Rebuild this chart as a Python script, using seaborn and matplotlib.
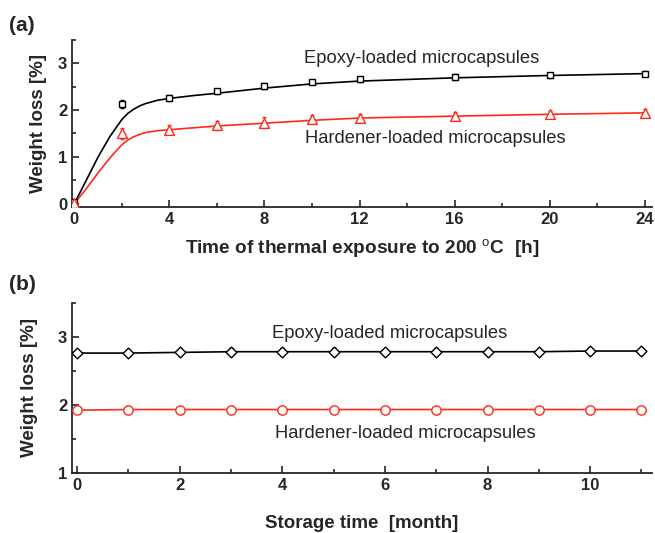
import numpy as np
import pandas as pd
import matplotlib
matplotlib.use("Agg")
import matplotlib.pyplot as plt
import seaborn as sns

# (a) thermal exposure data
timeH = [0, 2, 4, 6, 8, 10, 12, 16, 20, 24]
epoxyA = [0.03, 2.13, 2.26, 2.40, 2.52, 2.60, 2.66, 2.71, 2.74, 2.78]
epoxyAErr = [0.03, 0.08, 0.06, 0.06, 0.06, 0.05, 0.05, 0.06, 0.06, 0.05]
hardA = [0.02, 1.50, 1.58, 1.67, 1.73, 1.80, 1.84, 1.88, 1.91, 1.94]
hardAErr = [0.03, 0.12, 0.10, 0.10, 0.12, 0.10, 0.08, 0.08, 0.08, 0.08]

# fitted curves
fitT = [0, 0.5, 1, 1.5, 2, 2.25, 2.5, 2.75, 3, 3.5, 4, 5, 6, 8, 10, 12, 16, 20, 24]
epoxyFit = [0.0, 0.50, 1.00, 1.44, 1.80, 1.93, 2.02, 2.09, 2.14, 2.21, 2.25, 2.31, 2.36, 2.47, 2.56, 2.62, 2.69, 2.74, 2.78]
hardFit = [0.0, 0.32, 0.66, 0.98, 1.26, 1.36, 1.43, 1.48, 1.52, 1.56, 1.58, 1.62, 1.66, 1.72, 1.78, 1.83, 1.87, 1.91, 1.94]

# (b) storage data
month = [0, 1, 2, 3, 4, 5, 6, 7, 8, 9, 10, 11]
epoxyB = [2.76, 2.76, 2.77, 2.78, 2.78, 2.78, 2.78, 2.78, 2.78, 2.78, 2.79, 2.79]
epoxyBErr = [0.05, 0.04, 0.05, 0.05, 0.05, 0.05, 0.04, 0.05, 0.04, 0.04, 0.04, 0.04]
hardB = [1.92, 1.93, 1.93, 1.93, 1.93, 1.93, 1.93, 1.93, 1.93, 1.93, 1.93, 1.93]
hardBErr = [0.03, 0.02, 0.02, 0.02, 0.03, 0.03, 0.02, 0.03, 0.03, 0.02, 0.02, 0.02]

sns.set_style("ticks")
plt.rcParams['font.family'] = ['Liberation Sans', 'DejaVu Sans']
plt.rcParams['mathtext.fontset'] = 'custom'
plt.rcParams['mathtext.rm'] = 'Liberation Sans'
plt.rcParams['mathtext.bf'] = 'Liberation Sans:bold'

fig = plt.figure(figsize=(6.55, 5.33), dpi=100)
axA = fig.add_axes([0.110, 0.612, 0.885, 0.313])
axB = fig.add_axes([0.110, 0.113, 0.885, 0.319])

red = '#ff2a1a'


def styleAxis(ax):
    sns.despine(ax=ax)
    ax.tick_params(which='both', direction='in', width=1.2, labelsize=12)
    ax.tick_params(which='major', length=5)
    ax.tick_params(which='minor', length=3)
    for s in ['left', 'bottom']:
        ax.spines[s].set_linewidth(1.3)
    for lbl in ax.get_xticklabels() + ax.get_yticklabels():
        lbl.set_fontweight('bold')


def drawPoints(ax, x, y, err, color, marker, size):
    ax.errorbar(x, y, yerr=err, fmt='none', ecolor=color, elinewidth=1, capsize=1.5, zorder=3)
    sns.scatterplot(x=x, y=y, ax=ax, marker=marker, s=size, facecolors='white',
                    edgecolor=color, linewidth=1, zorder=4)


# panel (a)
sns.lineplot(x=fitT, y=epoxyFit, ax=axA, color='black', linewidth=1.2)
sns.lineplot(x=fitT, y=hardFit, ax=axA, color=red, linewidth=1.2)
drawPoints(axA, timeH, epoxyA, epoxyAErr, 'black', 's', 25)
drawPoints(axA, timeH, hardA, hardAErr, red, '^', 50)
axA.set_xlim(-0.1, 24.3)
axA.set_ylim(-0.07, 3.5)
axA.set_xticks([0, 4, 8, 12, 16, 20, 24])
axA.set_xticks(np.arange(0, 25, 2), minor=True)
axA.set_yticks([0, 1, 2, 3])
axA.set_yticks([0.5, 1.5, 2.5, 3.5], minor=True)
axA.set_xlabel("Time of thermal exposure to 200 $^{\\mathrm{o}}$C  [h]", fontsize=13.7, fontweight='bold', labelpad=8)
axA.set_ylabel("Weight loss [%]", fontsize=13.5, fontweight='bold', labelpad=8)
styleAxis(axA)
axA.text(14.6, 3.1, "Epoxy-loaded microcapsules", fontsize=13.2, ha='center', va='center')
axA.text(15.2, 1.4, "Hardener-loaded microcapsules", fontsize=13.2, ha='center', va='center')

# panel (b)
sns.lineplot(x=month, y=epoxyB, ax=axB, color='black', linewidth=1.2)
sns.lineplot(x=month, y=hardB, ax=axB, color=red, linewidth=1.2)
drawPoints(axB, month, epoxyB, epoxyBErr, 'black', 'D', 30)
drawPoints(axB, month, hardB, hardBErr, red, 'o', 45)
axB.set_xlim(-0.1, 11.2)
axB.set_ylim(1, 3.5)
axB.set_xticks([0, 2, 4, 6, 8, 10])
axB.set_xticks(np.arange(0, 12, 1), minor=True)
axB.set_yticks([1, 2, 3])
axB.set_yticks([1.5, 2.5, 3.5], minor=True)
axB.set_xlabel("Storage time  [month]", fontsize=13.5, fontweight='bold', labelpad=16)
axB.set_ylabel("Weight loss [%]", fontsize=13.5, fontweight='bold', labelpad=14)
styleAxis(axB)
axB.text(6.1, 3.05, "Epoxy-loaded microcapsules", fontsize=13.2, ha='center', va='center')
axB.text(6.4, 1.58, "Hardener-loaded microcapsules", fontsize=13.2, ha='center', va='center')

fig.text(0.014, 0.942, "(a)", fontsize=15, fontweight='bold')
fig.text(0.014, 0.455, "(b)", fontsize=15, fontweight='bold')

fig.savefig("out.png", dpi=100)
